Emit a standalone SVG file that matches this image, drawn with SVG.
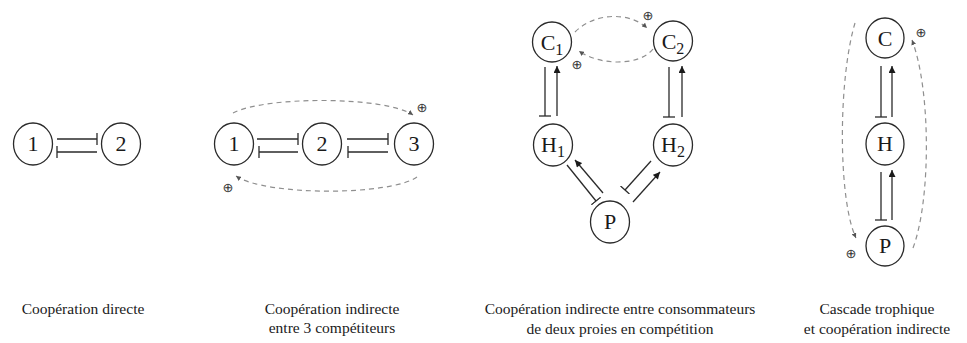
<svg xmlns="http://www.w3.org/2000/svg" width="967" height="343" viewBox="0 0 967 343">
<style>
.node ellipse{fill:#fff;stroke:#2a2a2a;stroke-width:1.3}
.lbl{font-family:"Liberation Serif","Times New Roman",serif;font-size:22px;fill:#1a1a1a;text-anchor:middle}
.sub{font-size:16px}
.inh{stroke:#2a2a2a;stroke-width:1.3;fill:none;marker-end:url(#bar)}
.act{stroke:#2a2a2a;stroke-width:1.3;fill:none;marker-end:url(#arr)}
.dash{stroke:#8f8f8f;stroke-width:1.2;fill:none;stroke-dasharray:5 4;marker-end:url(#darr)}
.plus{font-family:"DejaVu Sans",sans-serif;font-size:13px;fill:#333;text-anchor:middle}
.cap{font-family:"Liberation Serif","Times New Roman",serif;font-size:15.5px;fill:#1a1a1a;text-anchor:middle}
</style>
<defs>
<marker id="arr" viewBox="0 0 10 10" refX="10" refY="5" markerWidth="8" markerHeight="7" markerUnits="userSpaceOnUse" orient="auto"><path d="M0,0 L10,5 L0,10 z" fill="#1a1a1a"/></marker>
<marker id="bar" viewBox="-1 -6 2 12" refX="0" refY="0" markerWidth="2" markerHeight="12" markerUnits="userSpaceOnUse" orient="auto"><line x1="0" y1="-6" x2="0" y2="6" stroke="#2a2a2a" stroke-width="1.3"/></marker>
<marker id="darr" viewBox="0 0 10 10" refX="10" refY="5" markerWidth="5" markerHeight="5" markerUnits="userSpaceOnUse" orient="auto"><path d="M0,0 L10,5 L0,10 z" fill="#555"/></marker>
</defs>

<g id="connectors">
  <line class="inh" x1="57" y1="139" x2="97" y2="139"/>
  <line class="inh" x1="97" y1="152" x2="57" y2="152"/>
  <line class="inh" x1="257" y1="139" x2="298" y2="139"/>
  <line class="inh" x1="298" y1="152" x2="259" y2="152"/>
  <line class="inh" x1="347" y1="139" x2="388" y2="139"/>
  <line class="inh" x1="388" y1="152" x2="348" y2="152"/>
  <path class="dash" d="M233,113 C265,96 385,96 413,115"/>
  <path class="dash" d="M417,177 C390,196 265,196 236,176"/>
  <line class="inh" x1="545" y1="67" x2="545" y2="116"/>
  <line class="act" x1="557" y1="116" x2="557" y2="66"/>
  <line class="inh" x1="669" y1="67" x2="669" y2="117"/>
  <line class="act" x1="682" y1="117" x2="682" y2="66"/>
  <line class="inh" x1="567" y1="165" x2="596" y2="201"/>
  <line class="act" x1="603" y1="193" x2="575" y2="160"/>
  <line class="inh" x1="651" y1="161" x2="625" y2="190"/>
  <line class="act" x1="633" y1="202" x2="660" y2="172"/>
  <path class="dash" d="M575,32 C595,12 630,12 647,28"/>
  <path class="dash" d="M653,49 C640,66 600,66 579,51"/>
  <line class="inh" x1="881" y1="66" x2="881" y2="117"/>
  <line class="act" x1="892" y1="117" x2="892" y2="66"/>
  <line class="inh" x1="881" y1="172" x2="881" y2="220"/>
  <line class="act" x1="892" y1="220" x2="892" y2="170"/>
  <path class="dash" d="M855,23 C838,80 838,200 856,238"/>
  <path class="dash" d="M913,248 C931,200 931,90 912,40"/>
</g>

<g id="plus-signs">
  <text class="plus" x="422" y="112">⊕</text>
  <text class="plus" x="228" y="192">⊕</text>
  <text class="plus" x="648" y="20">⊕</text>
  <text class="plus" x="577" y="69">⊕</text>
  <text class="plus" x="921" y="37">⊕</text>
  <text class="plus" x="851" y="258">⊕</text>
</g>

<g id="p1-n1" class="node"><ellipse cx="33" cy="144" rx="19.5" ry="21"/><text class="lbl" x="33" y="151">1</text></g>
<g id="p1-n2" class="node"><ellipse cx="121" cy="144" rx="19.5" ry="21"/><text class="lbl" x="121" y="151">2</text></g>

<g id="p2-n1" class="node"><ellipse cx="234" cy="144" rx="19.5" ry="21"/><text class="lbl" x="234" y="151">1</text></g>
<g id="p2-n2" class="node"><ellipse cx="322" cy="144" rx="19.5" ry="21"/><text class="lbl" x="322" y="151">2</text></g>
<g id="p2-n3" class="node"><ellipse cx="414" cy="144" rx="19.5" ry="21"/><text class="lbl" x="414" y="151">3</text></g>

<g id="p3-C1" class="node"><ellipse cx="552" cy="42" rx="19.5" ry="20"/><text class="lbl" x="552" y="50">C<tspan class="sub" dy="5">1</tspan></text></g>
<g id="p3-C2" class="node"><ellipse cx="673" cy="41" rx="19.5" ry="20"/><text class="lbl" x="673" y="49">C<tspan class="sub" dy="5">2</tspan></text></g>
<g id="p3-H1" class="node"><ellipse cx="553" cy="145" rx="19.5" ry="21"/><text class="lbl" x="553" y="152">H<tspan class="sub" dy="5">1</tspan></text></g>
<g id="p3-H2" class="node"><ellipse cx="673" cy="145" rx="19.5" ry="21"/><text class="lbl" x="673" y="152">H<tspan class="sub" dy="5">2</tspan></text></g>
<g id="p3-P" class="node"><ellipse cx="610" cy="222" rx="19.5" ry="21"/><text class="lbl" x="610" y="229">P</text></g>

<g id="p4-C" class="node"><ellipse cx="885" cy="38" rx="19" ry="20"/><text class="lbl" x="885" y="46">C</text></g>
<g id="p4-H" class="node"><ellipse cx="885" cy="144" rx="19" ry="21"/><text class="lbl" x="885" y="151">H</text></g>
<g id="p4-P" class="node"><ellipse cx="885" cy="246" rx="19" ry="20"/><text class="lbl" x="885" y="253">P</text></g>

<g id="captions">
  <text class="cap" x="83" y="314">Coopération directe</text>
  <text class="cap" x="332" y="314">Coopération indirecte</text>
  <text class="cap" x="332" y="333">entre 3 compétiteurs</text>
  <text class="cap" x="620" y="314">Coopération indirecte entre consommateurs</text>
  <text class="cap" x="620" y="334">de deux proies en compétition</text>
  <text class="cap" x="877" y="314">Cascade trophique</text>
  <text class="cap" x="877" y="334">et coopération indirecte</text>
</g>
</svg>
